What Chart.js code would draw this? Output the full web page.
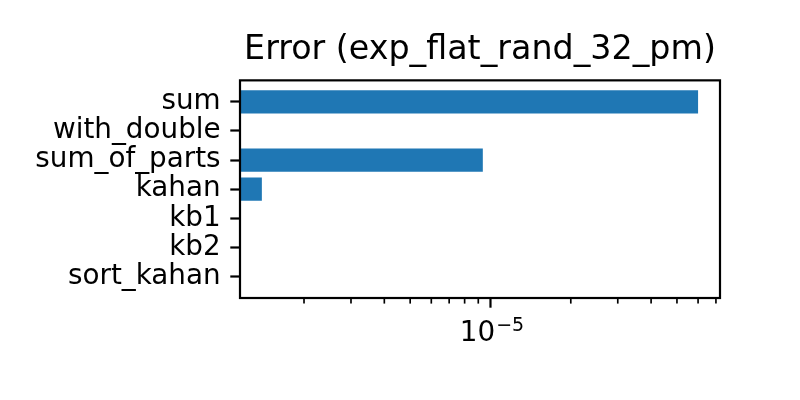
<!DOCTYPE html>
<html lang="en">
<head>
    <meta charset="UTF-8">
    <title>Error (exp_flat_rand_32_pm)</title>
    <script src="https://cdn.jsdelivr.net/npm/chart.js"></script>
    <style>
        body { margin: 0; background: #fff; }
        #wrap { width: 800px; height: 400px; }
    </style>
</head>
<body>
    <div id="wrap"><canvas id="errChart"></canvas></div>
    <script>
        // values (log x axis)
        const methods = ['sum', 'with_double', 'sum_of_parts', 'kahan', 'kb1', 'kb2', 'sort_kahan'];
        const errors = [6.0e-5, 0, 9.36e-6, 1.39e-6, 0, 0, 0];
        const xTicks = [2e-6, 3e-6, 4e-6, 5e-6, 6e-6, 7e-6, 8e-6, 9e-6,
                        1e-5, 2e-5, 3e-5, 4e-5, 5e-5, 6e-5, 7e-5];
        const xMin = 1.151e-6;
        const xMax = 7.25e-5;

        const FONT = 'DejaVu Sans';
        Chart.defaults.font.family = FONT;
        Chart.defaults.color = '#000';

        // matplotlib-style box, log ticks and 10^n labels
        const mplFrame = {
            id: 'mplFrame',
            afterDraw(chart) {
                const { ctx, chartArea: a } = chart;
                const x = chart.scales.x;
                ctx.save();
                ctx.strokeStyle = '#000';
                ctx.lineWidth = 2.2;
                ctx.strokeRect(a.left, a.top, a.right - a.left, a.bottom - a.top);

                x.ticks.forEach(t => {
                    const px = x.getPixelForValue(t.value);
                    const exp = Math.log10(t.value);
                    const major = Math.abs(exp - Math.round(exp)) < 1e-9;
                    ctx.lineWidth = major ? 2.2 : 1.67;
                    ctx.beginPath();
                    ctx.moveTo(px, a.bottom);
                    ctx.lineTo(px, a.bottom + (major ? 9.7 : 5.6));
                    ctx.stroke();
                    if (major) {
                        const sup = '\u2212' + Math.abs(Math.round(exp));
                        ctx.fillStyle = '#000';
                        ctx.textBaseline = 'alphabetic';
                        ctx.textAlign = 'left';
                        ctx.font = '27.8px "' + FONT + '"';
                        const wBase = ctx.measureText('10').width;
                        ctx.font = '19px "' + FONT + '"';
                        const wSup = ctx.measureText(sup).width;
                        const x0 = px - (wBase + wSup) / 2 + 1;
                        ctx.font = '27.8px "' + FONT + '"';
                        ctx.fillText('10', x0, a.bottom + 43);
                        ctx.font = '19px "' + FONT + '"';
                        ctx.fillText(sup, x0 + wBase + 1, a.bottom + 33);
                    }
                });
                ctx.restore();
            }
        };

        new Chart(document.getElementById('errChart'), {
            type: 'bar',
            data: {
                datasets: [{
                    data: errors.map((v, i) => ({ x: v, y: i })),
                    backgroundColor: '#1f77b4',
                    borderWidth: 0,
                    barPercentage: 0.8,
                    categoryPercentage: 1.0
                }]
            },
            plugins: [mplFrame],
            options: {
                indexAxis: 'y',
                responsive: true,
                maintainAspectRatio: false,
                animation: false,
                layout: { padding: { left: 0, right: 80, top: 0, bottom: 0 } },
                plugins: {
                    legend: { display: false },
                    tooltip: { enabled: false },
                    title: {
                        display: true,
                        text: 'Error (exp_flat_rand_32_pm)',
                        fullSize: false,
                        color: '#000',
                        font: { size: 33.3, weight: 'normal', family: FONT },
                        padding: { top: 30.5, bottom: 9.9 }
                    }
                },
                scales: {
                    x: {
                        type: 'logarithmic',
                        min: xMin,
                        max: xMax,
                        grid: { display: false },
                        border: { display: false },
                        ticks: { display: false },
                        afterBuildTicks: s => { s.ticks = xTicks.map(v => ({ value: v })); },
                        afterFit: s => { s.height = 102; }
                    },
                    y: {
                        type: 'linear',
                        reverse: true,
                        offset: false,
                        min: -0.74,
                        max: 6.74,
                        grid: {
                            offset: false,
                            drawOnChartArea: false,
                            drawTicks: true,
                            tickLength: 9.7,
                            tickWidth: 2.2,
                            tickColor: '#000'
                        },
                        border: { display: false },
                        ticks: {
                            autoSkip: false,
                            padding: 9.7,
                            color: '#000',
                            font: { size: 27.8, family: FONT },
                            callback: v => methods[v]
                        },
                        afterBuildTicks: s => { s.ticks = methods.map((m, i) => ({ value: i })); },
                        afterFit: s => { s.width = 240; }
                    }
                }
            }
        });
    </script>
</body>
</html>
